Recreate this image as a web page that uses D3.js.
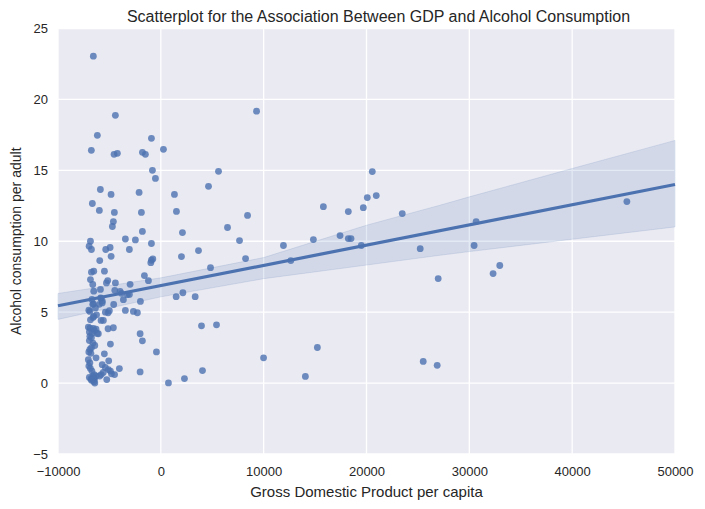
<!DOCTYPE html>
<html>
<head>
<meta charset="utf-8">
<script src="https://cdn.jsdelivr.net/npm/d3@7"></script>
<style>
  html, body { margin: 0; padding: 0; background: #ffffff; }
  svg text { font-family: "Liberation Sans", Arial, sans-serif; fill: #262626; }
</style>
</head>
<body>
<svg id="chart" width="705" height="509"></svg>
<script>
// ---- data ----
const gdp = [
  -6563,-6757,-6173,-6660,-5979,-5880,-6845,-6971,-6748,-5942,-6524,-6748,-6845,-6621,-5874,-6524,
  -6700,-6560,-5850,-5700,-6620,-5979,-7000,-6359,-6900,-6250,-6524,-6845,-6600,-5813,-5589,-7050,
  -6880,-6560,-6300,-6950,-6700,-6450,-6200,-6076,-6900,-6750,-6950,-6600,-6420,-6750,-6900,-7000,
  -6800,-6300,-7050,-6900,-7000,-6850,-6700,-6500,-6300,-6950,-6800,-6650,-6550,-6450,-6500,-6420,
  -6750,-6600,
  -4420,-4547,-4226,-4840,-4518,-4615,-4713,-3447,-5359,-4932,-4835,-3058,-5485,-5165,-5291,-4417,
  -4479,-3963,-3836,-3252,-3057,-3642,-5813,-5687,-4583,-5394,-5131,-5005,-3447,-5131,-4615,-4903,
  -5492,-5068,-5700,-5400,-5100,-4900,-4800,-4500,-4031,-5800,-5600,-5258,-5950,
  -2473,-915,-1790,-1500,253,-818,-526,-2113,-1889,-1792,-915,-974,-915,-779,-1597,-1207,-2989,
  -1986,-2668,-2278,-2015,-1792,-428,-2015,740,2298,4050,3953,5414,9990,1324,1519,2103,2006,3661,
  4830,2142,1490,3340,4635,5608,6485,7653,8238,8432,9309,11922,12641,14835,15806,17427,18233,18233,
  18495,19495,19690,20078,20951,20563,23476,25223,26971,30466,30660,32311,32961,45320,15223,14058,
  25515,26874
];
const alcohol = [
  23.05,16.41,17.47,12.66,12.17,13.65,10.0,9.65,9.42,8.64,7.89,7.82,7.3,6.95,6.6,6.48,
  5.9,5.58,6.0,5.65,5.55,5.55,5.14,5.3,5.05,4.81,4.7,4.46,4.62,4.42,4.42,3.95,
  3.87,3.85,3.8,3.6,3.5,3.7,3.5,3.48,3.3,3.2,3.0,2.82,2.65,2.49,2.37,2.2,
  2.1,1.78,1.65,1.43,1.2,1.03,0.85,0.6,0.5,0.4,0.3,0.25,0.35,0.28,0.1,0.0,
  0.2,0.45,
  18.88,16.13,16.2,13.3,12.03,11.39,11.04,10.16,9.42,9.56,8.94,9.42,7.89,7.23,7.06,7.06,
  6.54,6.47,6.33,6.23,6.25,5.88,5.97,5.78,5.54,5.0,4.96,5.1,5.12,3.83,3.9,2.75,
  2.06,1.57,1.3,1.1,0.95,0.85,0.65,0.6,1.02,0.6,0.75,0.25,0.5,
  10.09,17.26,16.27,16.13,16.48,15.0,14.43,13.44,12.03,10.69,9.84,8.49,8.66,8.75,7.58,7.22,6.96,
  5.76,5.05,4.96,3.48,2.98,2.2,0.79,0.01,0.32,0.88,4.04,4.11,1.78,13.3,12.1,10.61,8.92,9.34,
  8.14,6.37,6.09,6.09,13.87,14.93,10.97,10.05,8.78,11.82,19.17,9.7,8.64,10.12,12.44,10.4,12.09,10.19,
  10.19,9.7,12.37,13.08,13.22,14.91,11.95,9.48,7.37,9.7,11.39,7.72,8.29,12.8,2.51,0.47,
  1.53,1.25
];
// regression line and confidence band
const fitX = [-10000, 50000];
const fitY = [5.45, 14.0];
const ciX = [-10000, 0, 10000, 20000, 27136, 30000, 40000, 50000];
const ciLow = [4.49, 6.08, 7.36, 8.32, 9.01, 9.27, 10.14, 11.01];
const ciHigh = [6.32, 7.42, 8.85, 11.13, 12.54, 13.13, 15.13, 17.11];

const xTicks = [-10000, 0, 10000, 20000, 30000, 40000, 50000];
const yTicks = [-5, 0, 5, 10, 15, 20, 25];

const title = "Scatterplot for the Association Between GDP and Alcohol Consumption";
const xLabel = "Gross Domestic Product per capita";
const yLabel = "Alcohol consumption per adult";

// ---- layout ----
const W = 705, H = 509;
const m = { left: 58, right: 30, top: 28.5, bottom: 55 };
const svg = d3.select("#chart");
const x = d3.scaleLinear().domain([-10000, 50000]).range([m.left, W - m.right]);
const y = d3.scaleLinear().domain([-5, 25]).range([H - m.bottom, m.top]);
const blue = "#4c72b0";

svg.append("rect")
  .attr("x", x(-10000)).attr("y", y(25))
  .attr("width", x(50000) - x(-10000)).attr("height", y(-5) - y(25))
  .attr("fill", "#eaeaf2");

// grid
const g = svg.append("g");
g.selectAll("line.vx").data(xTicks).join("line")
  .attr("x1", d => x(d)).attr("x2", d => x(d))
  .attr("y1", y(25)).attr("y2", y(-5))
  .attr("stroke", "#ffffff").attr("stroke-width", 1.3);
g.selectAll("line.hy").data(yTicks).join("line")
  .attr("y1", d => y(d)).attr("y2", d => y(d))
  .attr("x1", x(-10000)).attr("x2", x(50000))
  .attr("stroke", "#ffffff").attr("stroke-width", 1.3);

// axes (no tick marks, seaborn darkgrid style)
const xAxis = svg.append("g").attr("transform", `translate(0,${y(-5)})`)
  .call(d3.axisBottom(x).tickValues(xTicks).tickSize(0).tickPadding(13).tickFormat(d => d < 0 ? "\u2212" + Math.abs(d) : String(d)));
const yAxis = svg.append("g").attr("transform", `translate(${x(-10000)},0)`)
  .call(d3.axisLeft(y).tickValues(yTicks).tickSize(0).tickPadding(10).tickFormat(d => d < 0 ? "\u2212" + Math.abs(d) : String(d)));
[xAxis, yAxis].forEach(a => {
  a.select(".domain").remove();
  a.selectAll("text").attr("font-size", 13).attr("fill", "#262626")
    .attr("font-family", "Liberation Sans, Arial, sans-serif");
});

// points
const pts = gdp.map((d, i) => ({ x: d, y: alcohol[i] }));
svg.append("g").selectAll("circle").data(pts).join("circle")
  .attr("cx", d => x(d.x)).attr("cy", d => y(d.y)).attr("r", 3.4)
  .attr("fill", blue).attr("fill-opacity", 0.8);

// confidence band
const band = ciX.map((d, i) => ({ x: d, lo: ciLow[i], hi: ciHigh[i] }));
svg.append("path").datum(band)
  .attr("d", d3.area().x(d => x(d.x)).y0(d => y(d.lo)).y1(d => y(d.hi)))
  .attr("fill", blue).attr("fill-opacity", 0.15)
  .attr("stroke", blue).attr("stroke-opacity", 0.15).attr("stroke-width", 1);

// regression line
const fit = fitX.map((d, i) => ({ x: d, y: fitY[i] }));
svg.append("path").datum(fit)
  .attr("d", d3.line().x(d => x(d.x)).y(d => y(d.y)))
  .attr("fill", "none").attr("stroke", blue).attr("stroke-width", 3.2);

// title & labels
svg.append("text").attr("x", (x(-10000) + x(50000)) / 2 + 12).attr("y", 22)
  .attr("text-anchor", "middle").attr("font-size", 16).text(title);
svg.append("text").attr("x", (x(-10000) + x(50000)) / 2).attr("y", 497)
  .attr("text-anchor", "middle").attr("font-size", 15).text(xLabel);
svg.append("text").attr("transform", `translate(21,${(y(25) + y(-5)) / 2}) rotate(-90)`)
  .attr("text-anchor", "middle").attr("font-size", 14).text(yLabel);
</script>
</body>
</html>
